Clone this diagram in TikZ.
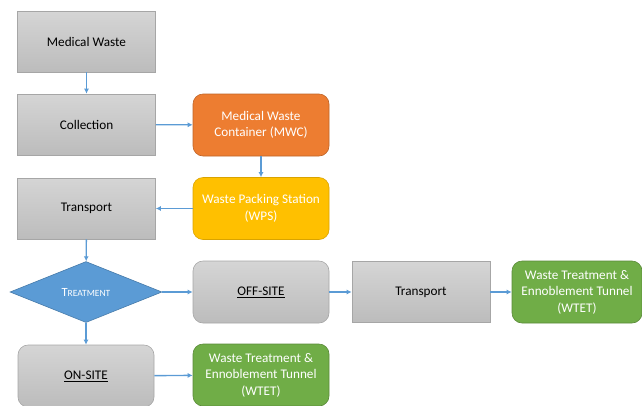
\documentclass[tikz,border=0pt]{standalone}
\usepackage{fontspec}
\setmainfont{Carlito}
\usetikzlibrary{arrows.meta,shapes.geometric}
\definecolor{boxblue}{HTML}{5B9BD5}
\definecolor{boxorange}{HTML}{ED7D31}
\definecolor{boxyellow}{HTML}{FFC000}
\definecolor{boxgreen}{HTML}{70AD47}
\definecolor{graytop}{HTML}{D5D5D5}
\definecolor{graybot}{HTML}{BCBCBC}
\definecolor{grayline}{HTML}{A6A6A6}
\tikzset{
  graybox/.style={draw=grayline, line width=0.6pt, top color=graytop, bottom color=graybot,
    minimum width=138pt, minimum height=61pt, align=center, font=\fontsize{13.2}{16.5}\selectfont},
  roundbox/.style={rounded corners=10pt, minimum width=136pt, minimum height=62pt,
    align=center, text=white, font=\fontsize{13.2}{16.5}\selectfont, line width=0.6pt},
  flow/.style={draw=boxblue, line width=1.4pt, -{Latex[length=5pt,width=5pt]}}
}
\begin{document}
\begin{tikzpicture}[x=1pt,y=-1pt]
  \useasboundingbox (0,0) rectangle (642,405);
  % left column
  \node[graybox] (waste) at (86.5,41.5) {Medical Waste};
  \node[graybox] (collect) at (86.5,124.5) {Collection};
  \node[graybox] (transA) at (86.5,208.5) {Transport};
  \node[diamond, draw=boxblue!80!black, line width=0.6pt, fill=boxblue, text=white,
    minimum width=152pt, minimum height=61pt, inner sep=0pt, aspect=2.5,
    font=\fontsize{12.5}{15}\selectfont] (treat) at (86,292) {T{\fontsize{9.5}{10}\selectfont REATMENT}};
  \node[graybox, rounded corners=10pt, minimum width=136pt, minimum height=62pt] (onsite) at (86,376) {\underline{ON-SITE}};
  % middle column
  \node[roundbox, draw=boxorange!80!black, fill=boxorange] (mwc) at (261,125) {Medical Waste\\Container (MWC)};
  \node[roundbox, draw=boxyellow!85!black, fill=boxyellow] (wps) at (261,208.5) {Waste Packing Station\\(WPS)};
  \node[graybox, rounded corners=10pt, minimum width=136pt, minimum height=62pt] (offsite) at (261,292) {\underline{OFF-SITE}};
  \node[roundbox, draw=boxgreen!80!black, fill=boxgreen] (wtetA) at (261,375) {Waste Treatment \&\\Ennoblement Tunnel\\(WTET)};
  % right side
  \node[graybox] (transB) at (421,292) {Transport};
  \node[roundbox, draw=boxgreen!80!black, fill=boxgreen, minimum width=130pt] (wtetB) at (577,292) {Waste Treatment \&\\Ennoblement Tunnel\\(WTET)};
  % connectors
  \draw[flow] (waste) -- (collect);
  \draw[flow] (collect) -- (mwc);
  \draw[flow] (mwc) -- (wps);
  \draw[flow] (wps) -- (transA);
  \draw[flow] (transA) -- (treat);
  \draw[flow] (treat) -- (offsite);
  \draw[flow] (offsite) -- (transB);
  \draw[flow] (transB) -- (wtetB);
  \draw[flow] (treat) -- (onsite);
  \draw[flow] (onsite) -- (wtetA);
\end{tikzpicture}
\end{document}
